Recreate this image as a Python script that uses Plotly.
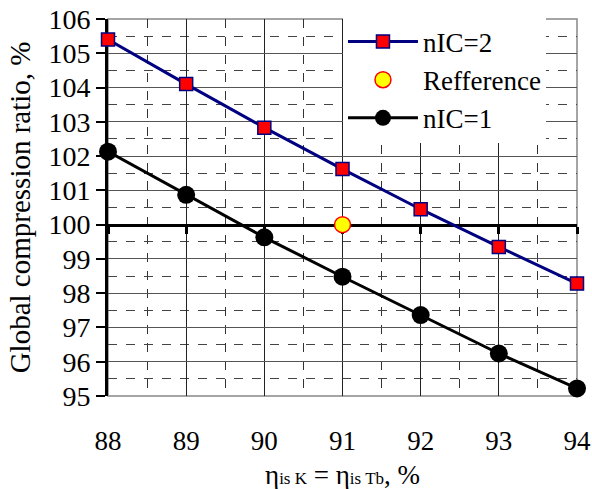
import plotly.graph_objects as go

# Isentropic efficiency of compressor / turbine, %
eta = [88, 89, 90, 91, 92, 93, 94]
# Global compression ratio relative to reference, %
ratio_nic2 = [105.4, 104.1, 102.83, 101.62, 100.45, 99.35, 98.28]
ratio_nic1 = [102.13, 100.87, 99.63, 98.48, 97.36, 96.24, 95.22]
ref_eta = [91]
ref_ratio = [100]

y_range = [95, 106]
x_range = [88, 94]
y_cross = 100  # horizontal axis crosses the vertical one here

FONT = "Liberation Serif, Times New Roman, serif"

fig = go.Figure()

fig.add_trace(go.Scatter(
    x=eta, y=ratio_nic2, name="nIC=2", mode="lines+markers",
    line=dict(color="#000080", width=3),
    marker=dict(symbol="square", size=13, color="#ff0000",
                line=dict(color="#000080", width=1.5)),
    cliponaxis=False,
))
fig.add_trace(go.Scatter(
    x=ref_eta, y=ref_ratio, name="Refference", mode="markers",
    marker=dict(symbol="circle", size=16, color="#ffff00",
                line=dict(color="#ff0000", width=1.5)),
    cliponaxis=False,
))
fig.add_trace(go.Scatter(
    x=eta, y=ratio_nic1, name="nIC=1", mode="lines+markers",
    line=dict(color="black", width=3),
    marker=dict(symbol="circle", size=18, color="black"),
    cliponaxis=False,
))
# carrier for the bottom tick-label axis
fig.add_trace(go.Scatter(x=x_range, y=[None, None], xaxis="x2",
                         showlegend=False, hoverinfo="skip"))

cross_pos = (y_cross - y_range[0]) / (y_range[1] - y_range[0])

fig.update_layout(
    width=592, height=489,
    margin=dict(l=108, r=15, t=19, b=93, autoexpand=False),
    paper_bgcolor="white", plot_bgcolor="white",
    font=dict(family=FONT, size=27, color="black"),
    showlegend=True,
    legend=dict(x=0.501, y=0.838, xanchor="left", yanchor="middle",
                bgcolor="white", borderwidth=0, itemwidth=70,
                font=dict(family=FONT, size=27, color="black"),
                tracegroupgap=0, itemsizing="trace"),
    xaxis=dict(
        range=x_range, dtick=1, anchor="free", position=cross_pos,
        automargin=False,
        showline=True, linecolor="black", linewidth=3,
        ticks="outside", ticklen=7, tickwidth=3, tickcolor="black",
        showticklabels=False, layer="below traces",
        showgrid=True, gridcolor="#222", gridwidth=1,
        minor=dict(dtick=0.5, showgrid=True, griddash="dash",
                   gridcolor="#333", gridwidth=1),
        zeroline=False,
    ),
    xaxis2=dict(
        range=x_range, dtick=1, overlaying="x", anchor="y", side="bottom",
        automargin=False,
        showline=False, showgrid=False, zeroline=False, ticks="",
        showticklabels=True, ticklabelstandoff=26,
        tickfont=dict(family=FONT, size=27, color="black"),
    ),
    yaxis=dict(
        range=y_range, dtick=1, automargin=False,
        showline=True, linecolor="black", linewidth=3,
        ticks="outside", ticklen=9, tickwidth=2, tickcolor="black",
        layer="below traces",
        showgrid=True, gridcolor="#555", gridwidth=1,
        minor=dict(dtick=0.5, showgrid=True, griddash="dash",
                   gridcolor="#444", gridwidth=1),
        zeroline=False,
        tickfont=dict(family=FONT, size=28, color="black"),
    ),
    shapes=[dict(type="rect", xref="x domain", yref="y domain",
                 x0=0, x1=1, y0=0, y1=1, layer="below",
                 line=dict(color="#888", width=1.5))],
    annotations=[
        dict(text="Global compression ratio, %",
             xref="paper", yref="paper", x=-0.188, y=0.5, textangle=-90,
             xanchor="center", yanchor="middle", showarrow=False,
             font=dict(family=FONT, size=29, color="black")),
        dict(text=("η<span style=\"font-size:17px\">is K</span> = "
                   "η<span style=\"font-size:17px\">is Tb</span>, %"),
             xref="paper", yref="paper", x=0.5, y=-0.21,
             xanchor="center", yanchor="middle", showarrow=False,
             font=dict(family=FONT, size=27, color="black")),
    ],
)

fig.write_html("out.html")
